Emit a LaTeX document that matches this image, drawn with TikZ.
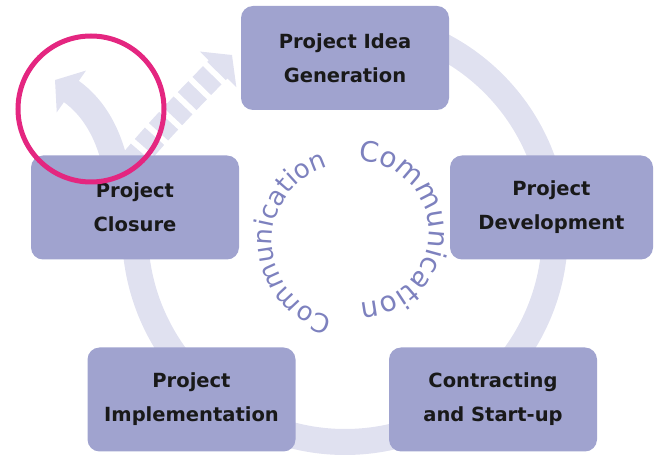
\documentclass[tikz,border=0pt]{standalone}
\usepackage{fontspec}
\setmainfont{DejaVu Sans}
\usepackage{tikz}
\usetikzlibrary{arrows.meta,decorations.text}
\pgfdeclarelayer{bg}
\pgfsetlayers{bg,main}
\definecolor{phasefill}{RGB}{160,163,207}
\definecolor{ringfill}{RGB}{224,225,240}
\definecolor{commtext}{RGB}{125,129,190}
\definecolor{markpink}{RGB}{228,38,128}

\begin{document}
\begin{tikzpicture}[
        phase/.style={fill=phasefill, rounded corners=12pt, minimum width=208pt,
                minimum height=104pt, align=center, inner sep=0pt, text=black!90,
                font=\fontsize{19.5}{34}\selectfont\bfseries},
        ring/.style={draw=ringfill, line width=26pt},
        ringtip/.style={-{Triangle[width=50pt,length=20pt]}},
        commarc/.style={decorate, decoration={text along path, text color=commtext,
                text={|\fontsize{#1}{#1}\selectfont|Communication}}}
        ]
        \useasboundingbox (0pt,0pt) rectangle (654pt,458pt);
        \node (idea) [phase] at (345pt, 400pt) {Project Idea\\Generation};
        \node (develop) [phase, minimum width=203pt] at (551.5pt, 250.5pt) {Project\\Development};
        \node (contract) [phase] at (493pt, 58.5pt) {Contracting\\and Start-up};
        \node (implement) [phase] at (191.5pt, 58.5pt) {Project\\Implementation};
        \node (closure) [phase] at (135pt, 250.5pt) {Project\\Closure};
        \coordinate (hub) at (345pt, 226pt);
        \coordinate (fork) at (118pt, 278pt);
        \coordinate (exit) at (55pt, 378pt);
        \coordinate (back) at (232pt, 403pt);
        \coordinate (lefthub) at (349pt, 216.5pt);
        \coordinate (righthub) at (358pt, 226pt);
        \begin{pgfonlayer}{bg}
                \draw [ring] (hub) ++(90:210pt) arc[start angle=90, end angle=-190, radius=210pt];
                \draw [ring, ringtip] (fork) .. controls (112pt, 320pt) and (95pt, 350pt) .. (exit);
                \draw [ring, ringtip, dash pattern=on 15pt off 6pt] (fork) .. controls (150pt, 320pt) and (195pt, 365pt) .. (back);
        \end{pgfonlayer}
        \path [commarc=26] (lefthub) ++(258:77pt) arc[start angle=258, end angle=60, radius=77pt];
        \path [commarc=28] (righthub) ++(90:71pt) arc[start angle=90, end angle=-120, radius=71pt];
        \draw [markpink, line width=5pt] (91pt, 349pt) circle[radius=73pt];
\end{tikzpicture}
\end{document}
